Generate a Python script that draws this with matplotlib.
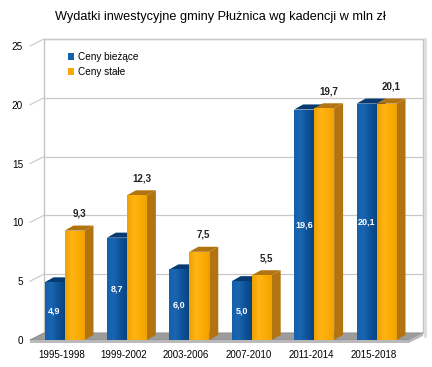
import numpy as np
import matplotlib.pyplot as plt
from matplotlib.patches import Polygon, Rectangle, Patch
from matplotlib.colors import LinearSegmentedColormap

plt.rcParams['font.family'] = ['Liberation Sans', 'DejaVu Sans']

# data
periods = ['1995-1998', '1999-2002', '2003-2006', '2007-2010', '2011-2014', '2015-2018']
current_prices = [4.9, 8.7, 6.0, 5.0, 19.6, 20.1]
constant_prices = [9.3, 12.3, 7.5, 5.5, 19.7, 20.1]
series_names = ['Ceny bieżące', 'Ceny stałe']
title = 'Wydatki inwestycyjne gminy Płużnica wg kadencji w mln zł'
yticks = [0, 5, 10, 15, 20, 25]

# styles (front gradient left -> right)
blue_front = ['#1660aa', '#1a66b0', '#0e5299', '#08457f']
blue_side = '#073a70'
orange_front = ['#eea000', '#ffb414', '#fcac06', '#f2a200']
orange_side = '#b27410'

fig = plt.figure(figsize=(4.32, 3.67), dpi=100)
ax = fig.add_axes([30 / 432, 27 / 367, 379 / 432, 294 / 367])
xmin, xmax = -0.553, 5.52
ymin, ymax = 0, 25
ax.set_xlim(xmin, xmax)
ax.set_ylim(ymin, ymax)
for s in ax.spines.values():
    s.set_visible(False)

# wall depth and bar depth (data units)
wdx, wdy = 0.224, 0.6
bdx, bdy = 0.144, 0.43
w = 0.32

# back wall
ax.add_patch(Polygon([(xmin + wdx, wdy), (xmax + wdx, wdy), (xmax + wdx, ymax + wdy),
                      (xmin + wdx, ymax + wdy)], closed=True, facecolor='white',
                     edgecolor='#c4c4c4', lw=1.0, clip_on=False, zorder=0))
ax.plot([xmax + wdx + 0.03] * 2, [wdy - 0.3, ymax + wdy], color='#dddddd', lw=2,
        clip_on=False, zorder=0)
for t in yticks:
    ax.plot([xmin + wdx, xmax + wdx], [t + wdy, t + wdy], color='#c8c8c8', lw=0.9,
            clip_on=False, zorder=1)
    ax.plot([xmin, xmin + wdx], [t, t + wdy], color='#c8c8c8', lw=0.8,
            clip_on=False, zorder=1)

# floor
ax.add_patch(Polygon([(xmin, 0), (xmax, 0), (xmax + wdx, wdy), (xmin + wdx, wdy)],
                     closed=True, facecolor='#9c9c9c', edgecolor='#8a8a8a', lw=0.5,
                     clip_on=False, zorder=2))
ax.add_patch(Polygon([(xmin, -0.25), (xmax, -0.25), (xmax + wdx, wdy - 0.25),
                      (xmax + wdx, wdy), (xmax, 0), (xmin, 0)],
                     closed=True, facecolor='#b8b8b8', edgecolor='none',
                     clip_on=False, zorder=2))


def draw_bar(x0, h, front, side, z):
    x1 = x0 + w
    ax.add_patch(Polygon([(x1, 0), (x1 + bdx, bdy), (x1 + bdx, h + bdy), (x1, h)],
                         closed=True, facecolor=side, edgecolor='none', zorder=z))
    ax.add_patch(Polygon([(x0, h), (x1, h), (x1 + bdx, h + bdy), (x0 + bdx, h + bdy)],
                         closed=True, facecolor=side, edgecolor='none', zorder=z))
    rect = Rectangle((x0, 0), w, h, facecolor=front[2], edgecolor='none', zorder=z)
    ax.add_patch(rect)
    cmap = LinearSegmentedColormap.from_list('g', front)
    grad = np.linspace(0, 1, 64).reshape(1, -1)
    im = ax.imshow(grad, cmap=cmap, extent=(x0, x1, 0, h), aspect='auto',
                   zorder=z + 0.1, interpolation='bilinear')
    im.set_clip_path(rect)


x = np.arange(len(periods))
for i in x:
    draw_bar(i - w, current_prices[i], blue_front, blue_side, 3 + i)
    draw_bar(i, constant_prices[i], orange_front, orange_side, 3.5 + i)
    ax.text(i - w / 2, current_prices[i] / 2, f'{current_prices[i]:.1f}'.replace('.', ','),
            color='white', fontsize=6.5, fontweight='bold', ha='center', va='center',
            zorder=20)
    ax.annotate(f'{constant_prices[i]:.1f}'.replace('.', ','),
                (i + w / 2 + bdx / 2, constant_prices[i] + bdy), xytext=(0, 5),
                textcoords='offset points', ha='center', va='bottom', fontsize=7,
                fontweight='bold', color='#222222', zorder=20)

ax.set_xlim(xmin, xmax)
ax.set_ylim(ymin, ymax)
ax.set_yticks(yticks)
ax.set_yticklabels([str(t) for t in yticks], fontsize=7.2)
ax.set_xticks(x - 0.05)
ax.set_xticklabels(periods, fontsize=7)
ax.tick_params(length=0, pad=5)
ax.tick_params(axis='x', pad=7)

handles = [Patch(facecolor='#1560ad', edgecolor='none'),
           Patch(facecolor='#f5a800', edgecolor='none')]
fig.legend(handles, series_names, loc='upper left', bbox_to_anchor=(68 / 432, 1 - 52 / 367),
           frameon=False, fontsize=7.2, handlelength=0.6, handleheight=0.6,
           handletextpad=0.4, labelspacing=0.5, borderpad=0, borderaxespad=0)

fig.text(220 / 432, 1 - 17 / 367, title, ha='center', va='center', fontsize=9.2)

fig.savefig('out.png', dpi=100)
